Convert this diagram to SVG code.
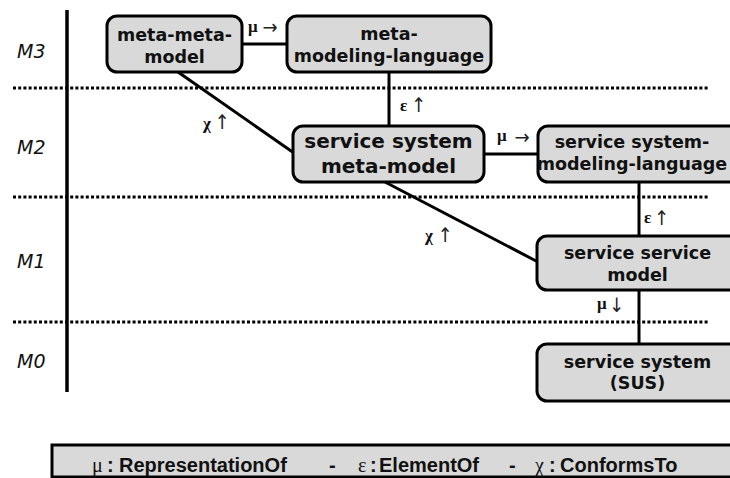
<svg xmlns="http://www.w3.org/2000/svg" width="730" height="478" viewBox="0 0 730 478">
<style>
.bg{fill:#ffffff}
.node rect{fill:#d9d9d9;stroke:#000;stroke-width:3}
.nt{font-family:"DejaVu Sans",Verdana,sans-serif;font-weight:bold;font-size:17.5px;fill:#111;text-anchor:middle}
.nt.big{font-size:20px}
.lvl{font-family:"DejaVu Sans",Verdana,sans-serif;font-style:italic;font-size:19px;fill:#111}
.conn line{stroke:#000;stroke-width:3}
.dot{stroke:#000;stroke-width:3;stroke-dasharray:3 2.2}
.lbl{font-family:"Liberation Serif","Times New Roman",serif;font-weight:bold;font-size:17px;fill:#111}
.ar{font-family:"DejaVu Sans Condensed","DejaVu Sans",sans-serif;font-weight:normal;font-size:20px;fill:#222;text-anchor:middle}
.leg{font-family:"Liberation Sans",Arial,sans-serif;font-weight:bold;font-size:20px;fill:#111}
.gr{font-family:"Liberation Serif","Times New Roman",serif;font-weight:normal}
</style>
<rect class="bg" x="0" y="0" width="730" height="478"/>
<g id="levels">
<line x1="67" y1="10" x2="67" y2="392" stroke="#000" stroke-width="3.5"/>
<line class="dot" x1="13" y1="88" x2="709" y2="88"/>
<line class="dot" x1="13" y1="197" x2="709" y2="197"/>
<line class="dot" x1="13" y1="322" x2="709" y2="322"/>
<text class="lvl" x="17" y="58">M3</text>
<text class="lvl" x="17" y="154">M2</text>
<text class="lvl" x="17" y="268">M1</text>
<text class="lvl" x="17" y="368">M0</text>
</g>
<g id="connectors" class="conn">
<line x1="242" y1="44" x2="287" y2="44"/>
<line x1="178" y1="72" x2="294" y2="153"/>
<line x1="389" y1="72" x2="389" y2="126"/>
<line x1="484" y1="154" x2="538" y2="154"/>
<line x1="385" y1="182" x2="538" y2="262"/>
<line x1="639" y1="182" x2="639" y2="236"/>
<line x1="639" y1="290" x2="639" y2="344"/>
<text class="lbl" x="248" y="32">μ</text>
<text class="ar" x="270" y="34" font-size="18">→</text>
<text class="lbl" x="203" y="129">χ</text>
<text class="ar" x="222" y="129">↑</text>
<text class="lbl" x="400" y="111">ε</text>
<text class="ar" x="418.5" y="112">↑</text>
<text class="lbl" x="497" y="141">μ</text>
<text class="ar" x="522" y="144" font-size="21">→</text>
<text class="lbl" x="425" y="241">χ</text>
<text class="ar" x="445" y="242">↑</text>
<text class="lbl" x="644" y="223">ε</text>
<text class="ar" x="661.5" y="225">↑</text>
<text class="lbl" x="597" y="309">μ</text>
<text class="ar" x="616.5" y="312">↓</text>
</g>
<g id="meta-meta-model" class="node">
<rect x="107" y="16" width="135" height="56" rx="10"/>
<text class="nt" x="174.5" y="41">meta-meta-</text>
<text class="nt" x="174.5" y="63">model</text>
</g>
<g id="meta-modeling-language" class="node">
<rect x="287" y="16" width="204" height="56" rx="10"/>
<text class="nt" x="389" y="40">meta-</text>
<text class="nt" x="389" y="62">modeling-language</text>
</g>
<g id="service-system-meta-model" class="node">
<rect x="293" y="126" width="191" height="56" rx="10"/>
<text class="nt big" x="388.5" y="148">service system</text>
<text class="nt big" x="388.5" y="173">meta-model</text>
</g>
<g id="service-system-modeling-language" class="node">
<rect x="538" y="126" width="220" height="56" rx="10"/>
<text class="nt" x="632" y="148">service system-</text>
<text class="nt" x="632" y="170">modeling-language</text>
</g>
<g id="service-service-model" class="node">
<rect x="537" y="236" width="220" height="54" rx="10"/>
<text class="nt" x="637.5" y="259">service service</text>
<text class="nt" x="637.5" y="281">model</text>
</g>
<g id="service-system-sus" class="node">
<rect x="537" y="344" width="220" height="57" rx="10"/>
<text class="nt" x="637.5" y="368">service system</text>
<text class="nt" x="637.5" y="389">(SUS)</text>
</g>
<g id="legend">
<rect x="52" y="445" width="700" height="32" fill="#d9d9d9" stroke="#000" stroke-width="3"/>
<text class="leg" y="472"><tspan class="gr" x="92">μ</tspan><tspan x="107">:</tspan><tspan x="119">RepresentationOf</tspan><tspan x="329">-</tspan><tspan class="gr" x="358">ε</tspan><tspan x="370">:</tspan><tspan x="379">ElementOf</tspan><tspan x="509">-</tspan><tspan class="gr" x="535">χ</tspan><tspan x="549">:</tspan><tspan x="560">ConformsTo</tspan></text>
</g>
</svg>
